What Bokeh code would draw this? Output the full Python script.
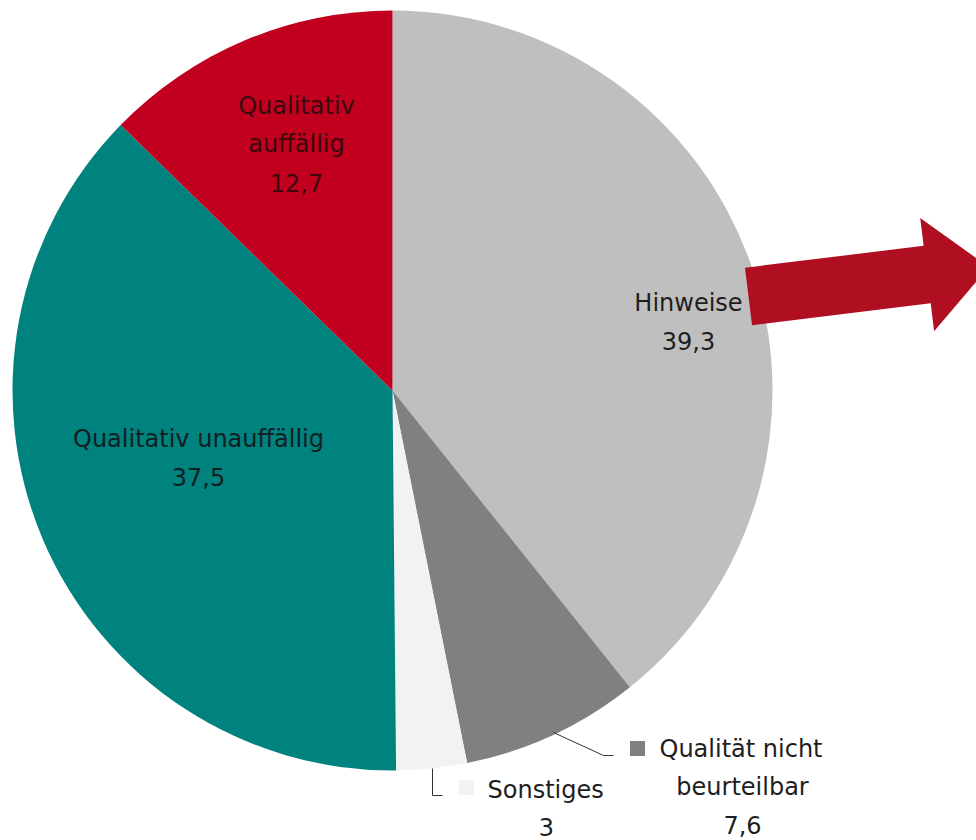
import math
from bokeh.plotting import figure
from bokeh.models import Range1d, ColumnDataSource
from bokeh.core.properties import value
from bokeh.embed import file_html
from bokeh.resources import INLINE

# ---- data ----
categories = ["Hinweise", "Qualität nicht beurteilbar", "Sonstiges",
              "Qualitativ unauffällig", "Qualitativ auffällig"]
shares = [39.3, 7.6, 3.0, 37.5, 12.7]
value_labels = ["39,3", "7,6", "3", "37,5", "12,7"]
colors = ["#BFBFBF", "#808080", "#F2F2F2", "#00827F", "#C0001E"]

W, H = 976, 840
FONT = "DejaVu Sans"
FS = "24px"

p = figure(width=W, height=H, x_range=Range1d(0, W), y_range=Range1d(0, H),
           output_backend="svg", toolbar_location=None, min_border=0)
p.axis.visible = False
p.grid.visible = False
p.outline_line_color = None
p.background_fill_color = "white"

def Y(y):
    return H - y

cx, cy, r = 392, Y(390), 380
total = sum(shares)
starts, ends = [], []
cum = 0.0
for s in shares:
    starts.append(math.pi / 2 - 2 * math.pi * cum / total)
    cum += s
    ends.append(math.pi / 2 - 2 * math.pi * cum / total)

src = ColumnDataSource(dict(x=[cx] * len(shares), y=[cy] * len(shares),
                            start=starts, end=ends, color=colors))
p.wedge(x="x", y="y", radius=r, start_angle="start", end_angle="end",
        direction="clock", fill_color="color", line_color=None, source=src)

# ---- arrow (decoration) ----
ang = math.radians(7)
ax0, ay0 = 748, 296      # shaft left middle (image coords)
shaft_len, shaft_half, head_len, head_half = 180, 29, 62, 57
def pt(u, v):
    x = ax0 + u * math.cos(ang) + v * math.sin(ang)
    y = ay0 - u * math.sin(ang) + v * math.cos(ang)
    return x, Y(y)
pts = [pt(0, -shaft_half), pt(shaft_len, -shaft_half), pt(shaft_len, -head_half),
       pt(shaft_len + head_len, 0), pt(shaft_len, head_half),
       pt(shaft_len, shaft_half), pt(0, shaft_half)]
p.patch([q[0] for q in pts], [q[1] for q in pts], fill_color="#B00F22",
        line_color=None)

# ---- labels ----
TXT = "#1E1E1E"
def label(x, y, txt, align="center", color=TXT):
    p.text(x=[x], y=[Y(y)], text=[txt], text_align=align,
           text_baseline="middle", text_font=value(FONT),
           text_font_size=FS, text_color=color)

RED_TXT = "#3A0A0E"
label(296, 105, "Qualitativ", color=RED_TXT)
label(296, 143, "auffällig", color=RED_TXT)
label(296, 182, value_labels[4], color=RED_TXT)
label(688, 302, "Hinweise")
label(688, 340, value_labels[0])
label(198, 438, "Qualitativ unauffällig", color="#102020")
label(198, 476, value_labels[3], color="#102020")

# outside labels with markers
p.rect(x=[637], y=[Y(748)], width=15, height=15, fill_color=colors[1], line_color=None)
label(659, 748, "Qualität nicht", align="left")
label(742, 786, "beurteilbar")
label(742, 824, value_labels[1])

p.rect(x=[466], y=[Y(787)], width=15, height=15, fill_color=colors[2], line_color=None)
label(487, 789, "Sonstiges", align="left")
label(546, 826, value_labels[2])

# leader lines
p.line([553, 603, 613], [Y(732), Y(755), Y(755)], line_color="#333333", line_width=1)
p.line([432, 432, 442], [Y(768), Y(795), Y(795)], line_color="#333333", line_width=1)

open("out.html", "w").write(file_html(p, INLINE))
